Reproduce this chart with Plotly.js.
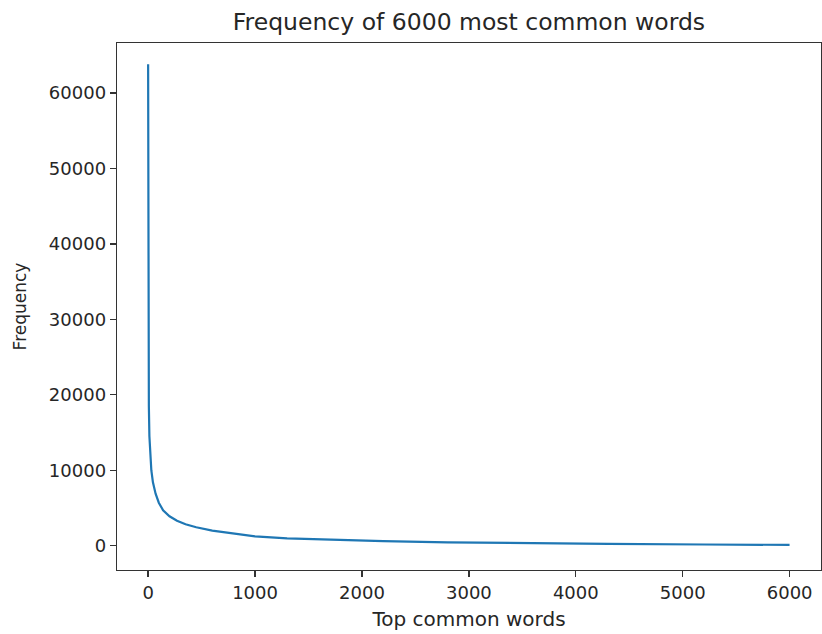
<!DOCTYPE html>
<html>
<head>
<meta charset="utf-8">
<script src="https://cdn.plot.ly/plotly-3.0.1.min.js"></script>
<style>
  html, body { margin: 0; padding: 0; background: #fff; }
  #chart { width: 822px; height: 634px; }
</style>
</head>
<body>
<div id="chart"></div>
<script>
// Word rank (0-based position among the 6000 most common words)
const ranks = [0, 2, 4, 7, 12, 20, 30, 45, 70, 100, 140, 200, 270, 350, 450, 600, 800, 1000, 1300, 1700, 2200, 2800, 3500, 4300, 5200, 5999];
// Frequency
const freqs = [63800, 33000, 24000, 18500, 14500, 11500, 10000, 8400, 6900, 5700, 4700, 3900, 3300, 2850, 2450, 2000, 1600, 1250, 980, 770, 600, 450, 330, 240, 160, 110];

const xTicks = [0, 1000, 2000, 3000, 4000, 5000, 6000];
const yTicks = [0, 10000, 20000, 30000, 40000, 50000, 60000];

const titleText = 'Frequency of 6000 most common words';
const xLabel = 'Top common words';
const yLabel = 'Frequency';

const fontFamily = '"DejaVu Sans", sans-serif';
const textColor = '#262626';

const trace = {
  x: ranks,
  y: freqs,
  type: 'scatter',
  mode: 'lines',
  line: { color: '#1f77b4', width: 2.2 },
  hoverinfo: 'x+y'
};

const axisCommon = {
  showline: true,
  linecolor: '#333',
  linewidth: 1.3,
  mirror: true,
  ticks: 'outside',
  ticklen: 6,
  tickwidth: 1.3,
  tickcolor: '#333',
  showgrid: false,
  zeroline: false,
  tickfont: { family: fontFamily, size: 18, color: textColor },
  automargin: false
};

const layout = {
  width: 822,
  height: 634,
  paper_bgcolor: '#fff',
  plot_bgcolor: '#fff',
  margin: { l: 117, r: 1, t: 43, b: 64 },
  showlegend: false,
  title: {
    text: titleText,
    font: { family: fontFamily, size: 23.5, color: textColor },
    x: 0.5705,
    xanchor: 'center',
    y: 1 - 22 / 634,
    yanchor: 'middle',
    yref: 'container'
  },
  xaxis: Object.assign({}, axisCommon, {
    range: [-291, 6293],
    tickvals: xTicks,
    ticktext: xTicks.map(String),
    title: { text: xLabel, font: { family: fontFamily, size: 20, color: textColor }, standoff: 10 }
  }),
  yaxis: Object.assign({}, axisCommon, {
    range: [-3218, 66620],
    tickvals: yTicks,
    ticktext: yTicks.map(String),
    title: { text: yLabel, font: { family: fontFamily, size: 17, color: textColor }, standoff: 18 }
  })
};

Plotly.newPlot('chart', [trace], layout, { displayModeBar: false, staticPlot: true });
</script>
</body>
</html>
